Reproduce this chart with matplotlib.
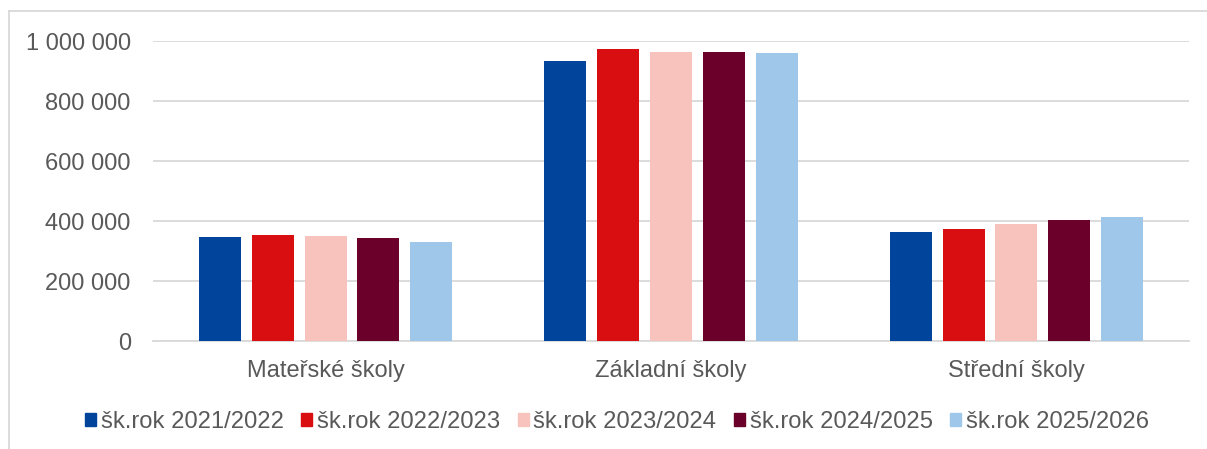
import numpy as np
import matplotlib
matplotlib.use('Agg')
import matplotlib.pyplot as plt
from matplotlib.lines import Line2D
from matplotlib.patches import Patch
from matplotlib.ticker import FuncFormatter

plt.rcParams['font.family'] = ['Liberation Sans', 'DejaVu Sans']

categories = ['Mateřské školy', 'Základní školy', 'Střední školy']
series = ['šk.rok 2021/2022', 'šk.rok 2022/2023', 'šk.rok 2023/2024',
          'šk.rok 2024/2025', 'šk.rok 2025/2026']
values = [
    [346000, 933000, 362000],   # 2021/2022
    [352000, 972000, 374000],   # 2022/2023
    [349000, 963000, 390000],   # 2023/2024
    [342000, 963000, 405000],   # 2024/2025
    [331000, 961000, 414000],   # 2025/2026
]
colors = ['#00449B', '#D80E11', '#F8C3BC', '#6B002A', '#9FC7EA']

text_c = '#595959'
grid_c = '#D9D9D9'

fig = plt.figure(figsize=(12.07, 4.49), dpi=100)
ax = fig.add_axes([153/1207, 1-341/449, (1189-153)/1207, 300/449])

x = np.arange(len(categories))
step = 0.1529
width = 0.1217
for i, (name, vals) in enumerate(zip(series, values)):
    ax.bar(x + (i - 2) * step, vals, width, color=colors[i], label=name, zorder=3)

ax.set_xlim(-0.5, 2.5)
ax.set_ylim(0, 1000000)
ax.set_yticks(np.arange(0, 1000001, 200000))
ax.yaxis.set_major_formatter(FuncFormatter(lambda v, p: '{:,.0f}'.format(v).replace(',', ' ')))
ax.set_xticks(x)
ax.set_xticklabels(categories)
ax.grid(axis='y', color=grid_c, linewidth=1.3, zorder=0)
for s in ['top', 'right', 'left']:
    ax.spines[s].set_visible(False)
ax.spines['bottom'].set_color(grid_c)
ax.spines['bottom'].set_linewidth(1.3)
ax.tick_params(axis='both', length=0, labelsize=17, colors=text_c)
ax.tick_params(axis='y', pad=16)
ax.tick_params(axis='x', pad=14)

# chart frame (partly cropped in the source)
fig.add_artist(Line2D([9/1207, 1.0], [1-11/449, 1-11/449], color=grid_c, linewidth=1.3))
fig.add_artist(Line2D([9/1207, 9/1207], [0, 1-11/449], color=grid_c, linewidth=1.3))

handles = [Patch(color=c) for c in colors]
fig.legend(handles, series, loc='center', bbox_to_anchor=(617/1207, 1-422/449), ncol=5,
           frameon=False, fontsize=17.1, labelcolor=text_c, handlelength=0.45, handleheight=0.45,
           handletextpad=0.2, columnspacing=0.75, borderaxespad=0)

fig.savefig('out.png', dpi=100)
